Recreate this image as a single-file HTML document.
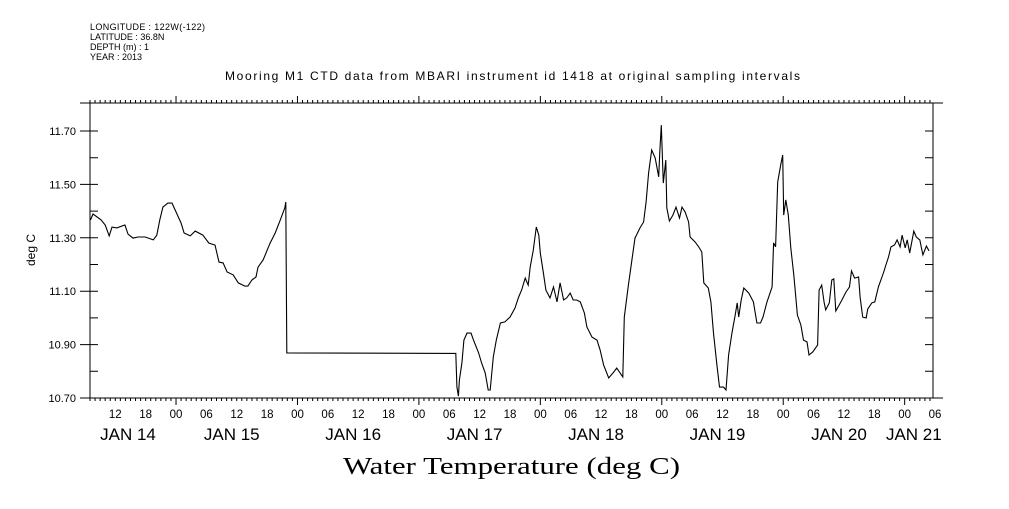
<!DOCTYPE html>
<html><head><meta charset="utf-8"><style>
body{margin:0;background:#fff;}
svg text{font-family:"Liberation Sans",sans-serif;fill:#000;}
</style></head><body>
<svg id="chart" width="1009" height="504" xmlns="http://www.w3.org/2000/svg">
<g font-size="9">
<text x="90" y="30" textLength="115">LONGITUDE : 122W(-122)</text>
<text x="90" y="40">LATITUDE : 36.8N</text>
<text x="90" y="50">DEPTH (m) : 1</text>
<text x="90" y="60">YEAR : 2013</text>
</g>
<text x="225" y="80" font-size="12" textLength="575" lengthAdjust="spacing">Mooring M1 CTD data from MBARI instrument id 1418 at original sampling intervals</text>
<text transform="translate(35,250) rotate(-90)" font-size="12" text-anchor="middle">deg C</text>
<text x="343" y="474" font-size="24" textLength="337" lengthAdjust="spacingAndGlyphs" style="font-family:'Liberation Serif',serif">Water Temperature (deg C)</text>
<g id="axes"></g>
<path id="line" fill="none" stroke="#000" stroke-width="1.1"/>
</svg>
<script>
const hours=[7.1,7.6,9.2,10.0,10.8,11.35,12.3,13.9,14.5,15.5,16.5,17.9,19.5,20.2,20.8,21.4,22.4,23.2,24,25,25.6,26.8,27.8,29.3,30.5,31.7,32.5,33.3,34.1,35.3,36.3,37.6,38.2,39.0,39.8,40.2,41.2,42.6,43.6,44.6,45.5,45.7,45.9,
79.3,79.5,79.8,80.0,80.5,80.9,81.5,82.3,82.8,83.8,84.4,85.1,85.7,86.1,86.7,87.3,88.1,89.0,90.0,91.0,91.7,92.3,93.0,93.6,94.0,94.6,95.2,95.7,96.0,96.6,97.1,97.9,98.6,99.3,99.9,100.6,101.2,101.9,102.5,103.2,103.9,104.7,105.2,106.2,107.2,107.8,108.5,109.5,110.5,111.1,112.3,112.6,113.4,114.1,114.7,115.7,116.4,116.9,117.4,118.0,118.7,119.4,119.6,119.9,120.3,120.8,121.0,121.5,122.2,122.8,123.5,124.0,124.6,125.3,125.6,126.6,127.3,127.9,128.3,129.2,129.7,130.2,130.9,131.4,132.2,132.7,133.2,133.9,134.5,134.9,135.2,135.7,136.2,137.2,138.1,138.8,139.5,140.0,140.8,141.8,142.1,142.5,142.9,143.5,143.9,144.1,144.5,145.0,145.5,146.1,146.8,147.5,148.0,148.7,149.1,149.8,150.8,151.1,151.6,152.1,152.4,153.1,153.6,154.0,154.4,155.4,156.4,157.1,157.5,158.1,158.9,159.2,159.7,160.4,160.7,161.5,162.1,162.8,163.8,164.3,164.8,165.3,166.0,166.5,167.1,167.5,168.1,168.5,169.0,169.8,170.3,171.0,171.6,172.3,172.8];
const temps=[11.367,11.389,11.367,11.348,11.307,11.34,11.337,11.348,11.314,11.299,11.303,11.303,11.292,11.31,11.367,11.415,11.43,11.43,11.397,11.355,11.318,11.307,11.325,11.31,11.28,11.273,11.209,11.206,11.172,11.161,11.131,11.119,11.119,11.142,11.153,11.19,11.217,11.28,11.318,11.367,11.412,11.434,10.869,
10.867,10.742,10.707,10.767,10.831,10.917,10.943,10.943,10.917,10.869,10.831,10.794,10.730,10.730,10.854,10.917,10.981,10.985,11.003,11.037,11.078,11.104,11.149,11.123,11.191,11.254,11.340,11.310,11.243,11.168,11.104,11.075,11.116,11.060,11.131,11.067,11.075,11.093,11.067,11.067,11.060,11.018,10.966,10.928,10.917,10.880,10.824,10.775,10.797,10.812,10.779,11.003,11.123,11.217,11.299,11.337,11.359,11.434,11.543,11.629,11.599,11.528,11.622,11.722,11.505,11.591,11.412,11.363,11.385,11.415,11.374,11.415,11.397,11.359,11.303,11.284,11.266,11.247,11.131,11.112,11.060,10.947,10.824,10.741,10.741,10.730,10.861,10.947,11.011,11.056,11.003,11.067,11.112,11.093,11.060,10.981,10.981,11.003,11.060,11.116,11.281,11.266,11.509,11.573,11.610,11.385,11.442,11.385,11.262,11.161,11.011,10.973,10.917,10.910,10.861,10.872,10.898,11.104,11.123,11.056,11.030,11.056,11.142,11.146,11.026,11.060,11.097,11.116,11.176,11.149,11.153,11.078,11.003,11.000,11.033,11.056,11.060,11.116,11.168,11.198,11.228,11.266,11.273,11.292,11.266,11.310,11.262,11.292,11.243,11.325,11.303,11.292,11.236,11.269,11.251];
const yTicks=[10.70,10.90,11.10,11.30,11.50,11.70];
const hourLabels=["00","06","12","18"];
const dayLabels=["JAN 14","JAN 15","JAN 16","JAN 17","JAN 18","JAN 19","JAN 20","JAN 21"];

const X0=90,X1=933,Y0=103,Y1=398,H0=7.0,H1=173.6,V0=10.7,V1=11.7,VY1=131;
const sx=h=>X0+(h-H0)/(H1-H0)*(X1-X0);
const sy=v=>Y1-(v-V0)/(V1-V0)*(Y1-VY1);
const NS="http://www.w3.org/2000/svg";
const ax=document.getElementById('axes');
function mk(tag,attrs,parent){const e=document.createElementNS(NS,tag);for(const k in attrs)e.setAttribute(k,attrs[k]);(parent||ax).appendChild(e);return e;}
let d=`M${X0-10},${Y0}H${X1+10}M${X0},${Y0}V${Y1}M${X1},${Y0}V${Y1}M${X0-10},${Y1}H${X1+10}`;
for(let h=Math.ceil(H0);h<=H1;h++){const x=sx(h);const L=(h%24===0)?7:3;d+=`M${x},${Y1}v${L}M${x},${Y0}v${-L}`;}
for(let v=V0;v<=11.751;v+=0.1){const y=sy(v);d+=`M${X1},${y}h-8M${X0},${y}h8`;}
yTicks.forEach(v=>{d+=`M${X0-10},${sy(v)}h10`;});
const frame=mk('path',{d:d,stroke:'#000','stroke-width':1,fill:'none'});


yTicks.forEach(v=>{const t=mk('text',{x:X0-14,y:sy(v)+4,'font-size':11,'text-anchor':'end'});t.textContent=v.toFixed(2);

});
for(let h=12;h<=H1+1;h+=6){const t=mk('text',{x:sx(h),y:418,'font-size':11.5,'text-anchor':'middle'});t.textContent=hourLabels[(h%24)/6];

}
dayLabels.forEach((s,i)=>{let a=Math.max(H0,i*24),b=Math.min(H1,i*24+24);const t=mk('text',{x:sx((a+b)/2)-5,y:440,'font-size':17,'text-anchor':'middle'});t.textContent=s;

});
let p='';for(let i=0;i<hours.length;i++)p+=(i?'L':'M')+sx(hours[i]).toFixed(1)+','+sy(temps[i]).toFixed(1);
document.getElementById('line').setAttribute('d',p);
</script>
</body></html>
